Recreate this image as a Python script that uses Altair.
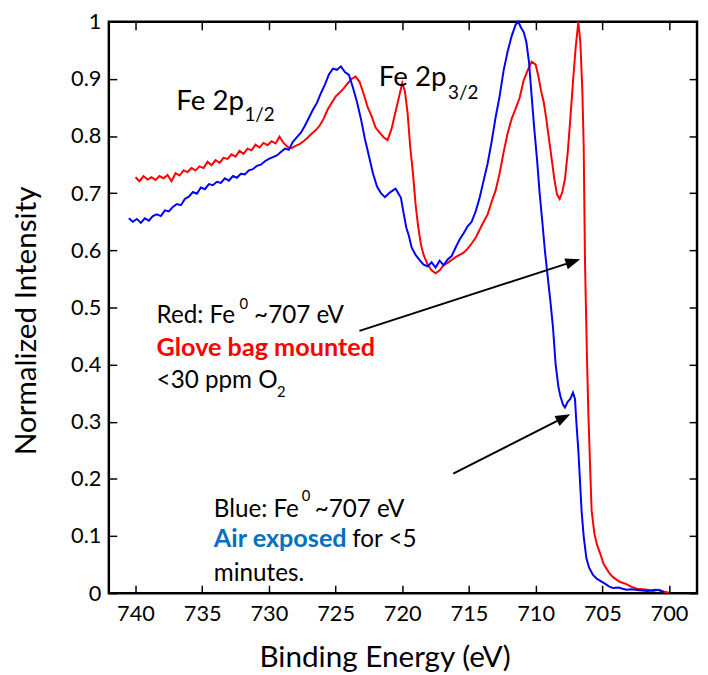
import altair as alt
import pandas as pd

# ---------------- data ----------------
red_energy = [740.0, 739.7, 739.4, 739.1, 738.8, 738.5, 738.2, 737.9, 737.6, 737.3,
              737.0, 736.7, 736.4, 736.1, 735.8, 735.5, 735.2, 734.9, 734.6, 734.3,
              734.0, 733.7, 733.4, 733.1, 732.8, 732.5, 732.2, 731.9, 731.6, 731.3,
              731.0, 730.7, 730.4, 730.1, 729.8, 729.5, 729.2, 728.9, 728.6, 728.3,
              728.0, 727.7, 727.4, 727.1, 726.8, 726.5, 726.2, 725.9, 725.6, 725.3,
              725.0, 724.7, 724.4, 724.1, 723.8, 723.5, 723.2, 722.9, 722.6, 722.3,
              722.0, 721.7, 721.4, 721.1, 720.8, 720.5, 720.2, 720.0, 719.8, 719.6,
              719.4, 719.2, 719.0, 718.8, 718.6, 718.4, 718.1, 717.8, 717.5, 717.2,
              716.9, 716.6, 716.3, 716.0, 715.7, 715.4, 715.1, 714.8, 714.5, 714.2,
              713.9, 713.6, 713.3, 713.0, 712.7, 712.4, 712.1, 711.8, 711.5, 711.2,
              710.9, 710.6, 710.3, 710.0, 709.8, 709.6, 709.4, 709.2, 709.0, 708.8,
              708.6, 708.4, 708.2, 708.0, 707.8, 707.6, 707.4, 707.2, 707.0, 706.8,
              706.65, 706.5, 706.4, 706.3, 706.15, 706.05, 705.9, 705.8, 705.6, 705.4,
              705.1, 704.9, 704.5, 704.2, 703.7, 703.2, 702.8, 702.4, 702.0, 701.6,
              701.2, 700.8, 700.4, 700.0]
red_intensity = [0.728, 0.721, 0.730, 0.724, 0.728, 0.723, 0.730, 0.726, 0.732, 0.721,
                 0.735, 0.731, 0.740, 0.737, 0.744, 0.740, 0.747, 0.744, 0.755, 0.749,
                 0.758, 0.753, 0.762, 0.760, 0.768, 0.764, 0.774, 0.769, 0.778, 0.775,
                 0.785, 0.780, 0.788, 0.784, 0.791, 0.787, 0.799, 0.788, 0.781, 0.779,
                 0.783, 0.786, 0.791, 0.797, 0.804, 0.810, 0.818, 0.830, 0.846, 0.858,
                 0.869, 0.876, 0.883, 0.892, 0.900, 0.904, 0.895, 0.874, 0.851, 0.835,
                 0.815, 0.806, 0.798, 0.793, 0.813, 0.843, 0.873, 0.893, 0.878, 0.840,
                 0.780, 0.735, 0.680, 0.640, 0.610, 0.592, 0.575, 0.565, 0.560, 0.565,
                 0.574, 0.578, 0.583, 0.588, 0.592, 0.596, 0.603, 0.612, 0.622, 0.636,
                 0.650, 0.663, 0.685, 0.705, 0.735, 0.772, 0.805, 0.830, 0.848, 0.867,
                 0.897, 0.915, 0.930, 0.925, 0.905, 0.880, 0.860, 0.830, 0.795, 0.760,
                 0.725, 0.698, 0.690, 0.702, 0.725, 0.770, 0.830, 0.895, 0.955, 1.000,
                 0.965, 0.880, 0.785, 0.580, 0.410, 0.317, 0.210, 0.144, 0.105, 0.085,
                 0.065, 0.051, 0.036, 0.028, 0.020, 0.016, 0.011, 0.008, 0.007, 0.006,
                 0.004, 0.006, 0.003, 0.001]

blue_energy = [740.5, 740.2, 739.9, 739.6, 739.3, 739.0, 738.7, 738.4, 738.1, 737.8,
               737.5, 737.2, 736.9, 736.6, 736.3, 736.0, 735.7, 735.4, 735.1, 734.8,
               734.5, 734.2, 733.9, 733.6, 733.3, 733.0, 732.7, 732.4, 732.1, 731.8,
               731.5, 731.2, 730.9, 730.6, 730.3, 730.0, 729.7, 729.4, 729.1, 728.8,
               728.5, 728.2, 727.9, 727.6, 727.3, 727.0, 726.7, 726.4, 726.1, 725.8,
               725.5, 725.2, 724.9, 724.6, 724.3, 724.0, 723.7, 723.4, 723.1, 722.8,
               722.5, 722.2, 721.9, 721.6, 721.3, 721.0, 720.7, 720.5, 720.3, 720.1,
               719.9, 719.7, 719.5, 719.3, 719.0, 718.7, 718.4, 718.1, 717.8, 717.5,
               717.2, 716.9, 716.6, 716.3, 716.0, 715.7, 715.4, 715.1, 714.8, 714.5,
               714.2, 713.9, 713.6, 713.3, 713.0, 712.7, 712.4, 712.1, 711.8, 711.5,
               711.3, 711.1, 710.9, 710.7, 710.5, 710.3, 710.1, 709.9, 709.7, 709.5,
               709.3, 709.1, 708.9, 708.7, 708.5, 708.3, 708.15, 707.95, 707.8, 707.6,
               707.4, 707.2, 707.05, 706.95, 706.8, 706.65, 706.55, 706.4, 706.2, 706.0,
               705.7, 705.4, 704.9, 704.5, 704.2, 703.8, 703.2, 702.8, 702.2, 701.6,
               701.0, 700.7, 700.4]
blue_intensity = [0.656, 0.650, 0.655, 0.648, 0.656, 0.652, 0.660, 0.663, 0.660, 0.670,
                  0.668, 0.676, 0.681, 0.679, 0.690, 0.694, 0.702, 0.699, 0.710, 0.707,
                  0.716, 0.714, 0.720, 0.718, 0.726, 0.722, 0.730, 0.727, 0.734, 0.733,
                  0.740, 0.742, 0.748, 0.750, 0.756, 0.760, 0.763, 0.766, 0.772, 0.778,
                  0.776, 0.790, 0.798, 0.806, 0.818, 0.832, 0.846, 0.858, 0.875, 0.890,
                  0.908, 0.918, 0.916, 0.922, 0.912, 0.907, 0.885, 0.860, 0.830, 0.795,
                  0.765, 0.735, 0.712, 0.700, 0.693, 0.700, 0.705, 0.708, 0.700, 0.692,
                  0.665, 0.640, 0.625, 0.605, 0.592, 0.583, 0.575, 0.572, 0.579, 0.570,
                  0.582, 0.574, 0.584, 0.590, 0.605, 0.619, 0.630, 0.642, 0.650, 0.668,
                  0.692, 0.722, 0.752, 0.790, 0.833, 0.870, 0.915, 0.948, 0.975, 0.995,
                  1.000, 0.990, 0.982, 0.965, 0.930, 0.870, 0.812, 0.760, 0.700, 0.650,
                  0.598, 0.555, 0.512, 0.465, 0.400, 0.362, 0.345, 0.330, 0.325, 0.335,
                  0.340, 0.351, 0.340, 0.300, 0.250, 0.185, 0.142, 0.100, 0.062, 0.045,
                  0.032, 0.025, 0.018, 0.012, 0.009, 0.010, 0.006, 0.007, 0.005, 0.004,
                  0.006, 0.005, 0.001]

x_ticks = [740, 735, 730, 725, 720, 715, 710, 705, 700]
y_ticks = [0, 0.1, 0.2, 0.3, 0.4, 0.5, 0.6, 0.7, 0.8, 0.9, 1]

x_title = "Binding Energy (eV)"
y_title = "Normalized Intensity"

# arrows: start (E, I), head centre (E, I), head angle (deg)
arrow_x = [723.21, 716.18]
arrow_y = [0.459, 0.2093]
arrow_x2 = [707.19, 707.90]
arrow_y2 = [0.5803, 0.3073]
arrow_angle = [72, 63]

# annotations: text, E, I, size, weight, colour
ann_text = ["Fe 2p", "1/2", "Fe 2p", "3/2",
            "Red: Fe", "0", "~707 eV", "Glove bag mounted", "<30 ppm O", "2",
            "Blue: Fe", "0", "~707 eV", "Air exposed", "for <5", "minutes."]
ann_x = [736.94, 731.83, 721.76, 716.57,
         738.42, 732.2, 731.11, 738.42, 738.42, 729.39,
         734.13, 727.53, 726.57, 734.13, 723.75, 734.13]
ann_y = [0.846, 0.827, 0.8875, 0.865,
         0.4723, 0.498, 0.4723, 0.4152, 0.3593, 0.3426,
         0.1327, 0.1609, 0.1327, 0.0808, 0.0808, 0.022]
ann_size = [28, 19, 28, 19,
            24.5, 15, 24.5, 25.5, 24.5, 15,
            24.5, 15, 24.5, 25.5, 24.5, 24.5]
ann_weight = ["normal", "normal", "normal", "normal",
              "normal", "normal", "normal", "bold", "normal", "normal",
              "normal", "normal", "normal", "bold", "normal", "normal"]
ann_color = ["black", "black", "black", "black",
             "black", "black", "black", "#ff0000", "black", "black",
             "black", "black", "black", "#0070c0", "black", "black"]

FONT = "Lato"

red_df = pd.DataFrame({"E": red_energy, "I": red_intensity})
blue_df = pd.DataFrame({"E": blue_energy, "I": blue_intensity})
arrow_df = pd.DataFrame({"x": arrow_x, "y": arrow_y, "x2": arrow_x2,
                         "y2": arrow_y2, "ang": arrow_angle})
ann_df = pd.DataFrame({"t": ann_text, "x": ann_x, "y": ann_y, "s": ann_size,
                       "w": ann_weight, "c": ann_color})

x_scale = alt.Scale(domain=[697.9, 742], reverse=True, nice=False, zero=False)
y_scale = alt.Scale(domain=[0, 1], nice=False, zero=False)

bottom_axis = alt.Axis(values=x_ticks, title=x_title, orient="bottom", domain=False,
                       tickSize=8, offset=-8, tickColor="black", tickWidth=1.5,
                       labelFontSize=22, labelFont=FONT, labelColor="black",
                       labelPadding=11, titleFont=FONT, titleFontSize=30,
                       titleFontWeight="normal", titleColor="black", titlePadding=18,
                       titleX=279, grid=False, format="d")
left_axis = alt.Axis(values=y_ticks, title=y_title, orient="left", domain=False,
                     tickSize=8, offset=-8, tickColor="black", tickWidth=1.5,
                     labelFontSize=22, labelFont=FONT, labelColor="black",
                     labelPadding=8, titleFont=FONT, titleFontSize=30,
                     titleFontWeight="normal", titleColor="black", titlePadding=29,
                     titleY=302, grid=False, format=".1~f")
top_axis = alt.Axis(values=x_ticks, title=None, orient="top", domain=False,
                    tickSize=8, offset=-8, tickColor="black", tickWidth=1.5,
                    labels=False, grid=False)
right_axis = alt.Axis(values=y_ticks, title=None, orient="right", domain=False,
                      tickSize=8, offset=-8, tickColor="black", tickWidth=1.5,
                      labels=False, grid=False)

red_line = alt.Chart(red_df).mark_line(color="#ff0000", strokeWidth=2).encode(
    x=alt.X("E:Q", scale=x_scale, axis=bottom_axis),
    y=alt.Y("I:Q", scale=y_scale, axis=left_axis),
)
blue_line = alt.Chart(blue_df).mark_line(color="#0000ff", strokeWidth=2).encode(
    x=alt.X("E:Q", scale=x_scale, axis=top_axis),
    y=alt.Y("I:Q", scale=y_scale, axis=right_axis),
)

arrow_lines = alt.Chart(arrow_df).mark_rule(color="black", strokeWidth=2).encode(
    x=alt.X("x:Q", scale=x_scale, axis=None),
    y=alt.Y("y:Q", scale=y_scale, axis=None),
    x2="x2:Q", y2="y2:Q",
)
arrow_heads = alt.Chart(arrow_df).mark_point(
    shape="M0,-1L0.75,1L-0.75,1Z", filled=True, color="black", opacity=1, size=225
).encode(
    x=alt.X("x2:Q", scale=x_scale, axis=None),
    y=alt.Y("y2:Q", scale=y_scale, axis=None),
    angle=alt.Angle("ang:Q", scale=None),
)

text_layers = []
for weight in ["normal", "bold"]:
    sub = ann_df[ann_df["w"] == weight]
    text_layers.append(
        alt.Chart(sub).mark_text(align="left", baseline="alphabetic", font=FONT,
                                 fontWeight=weight).encode(
            x=alt.X("x:Q", scale=x_scale, axis=None),
            y=alt.Y("y:Q", scale=y_scale, axis=None),
            text="t:N",
            size=alt.Size("s:Q", scale=None, legend=None),
            color=alt.Color("c:N", scale=None, legend=None),
        )
    )

chart = alt.layer(
    red_line, blue_line, arrow_lines, arrow_heads, *text_layers
).resolve_axis(x="independent", y="independent").properties(
    width=595, height=578,
    autosize=alt.AutoSizeParams(type="none"),
    padding={"left": 102, "top": 10, "right": 3, "bottom": 95},
).configure_view(stroke="black", strokeWidth=2.5)

chart.save("out.html", embed_options={"renderer": "svg", "actions": False})
